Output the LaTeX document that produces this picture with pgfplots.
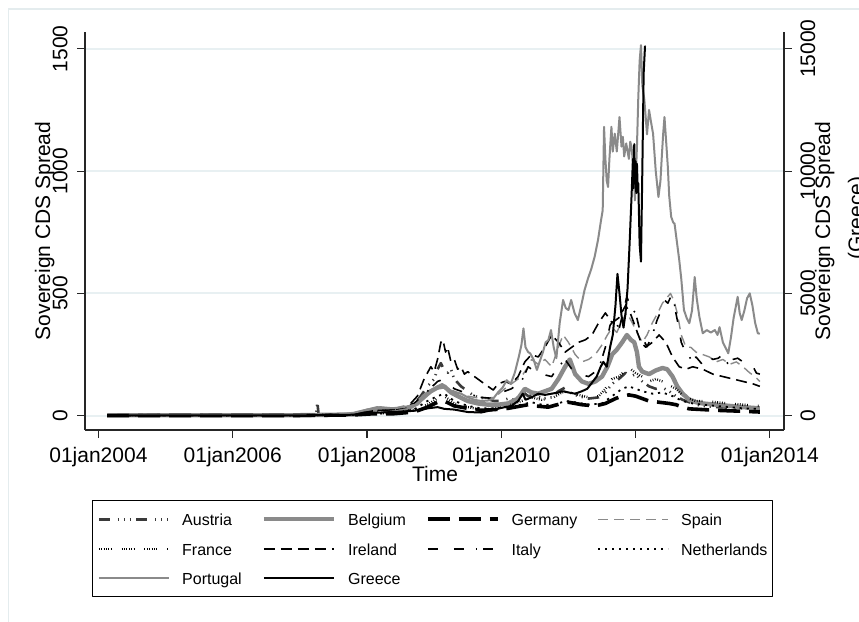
\documentclass[border=0pt]{standalone}
\usepackage{fontspec}
\setmainfont{Liberation Sans}
\usepackage{pgfplots}
\pgfplotsset{compat=1.18}

\definecolor{sgray}{HTML}{8A8A8A}
\definecolor{sdark}{HTML}{3A3A3A}
\definecolor{gridc}{HTML}{E8F0F2}
\definecolor{framec}{HTML}{E4ECEE}

% line styles of the ten countries
\tikzset{
  lsAT/.style={sdark, line width=1.3pt, dash pattern=on 5.5pt off 4pt on 0.6pt off 2.4pt on 0.6pt off 2.4pt on 0.6pt off 2.6pt},
  lsBE/.style={sgray, line width=2.2pt},
  lsDE/.style={black, line width=1.8pt, dash pattern=on 11pt off 4.5pt},
  lsES/.style={sgray, line width=0.7pt, dash pattern=on 5pt off 3pt},
  lsFR/.style={black, line width=1.2pt, dash pattern=on 0.4pt off 0.8pt on 0.4pt off 0.8pt on 0.4pt off 0.8pt on 0.4pt off 0.8pt on 0.4pt off 0.8pt on 0.4pt off 5pt},
  lsIE/.style={black, line width=0.8pt, dash pattern=on 5.5pt off 3pt},
  lsIT/.style={black, line width=0.8pt, dash pattern=on 5pt off 8pt on 5pt off 6pt on 0.8pt off 3pt},
  lsNL/.style={black, line width=0.9pt, dash pattern=on 1.1pt off 2.4pt},
  lsPT/.style={sgray, line width=1pt},
  lsGR/.style={black, line width=1pt},
}

\pgfplotsset{
  cdsaxis/.style={
    scale only axis, width=349.5pt, height=199pt,
    at={(42.5pt,-215pt)}, anchor=south west,
    xmin=2003.80, xmax=2014.21,
    tick align=outside, major tick length=4pt,
    axis line style={black!85, line width=0.55pt, -},
    tick style={black!85, line width=0.55pt},
    every tick label/.append style={font=\fontsize{10.5}{12}\selectfont, inner sep=0pt},
    scaled y ticks=false,
    /pgf/number format/1000 sep={},
    /pgf/number format/assume math mode=true,
    line join=round,
  }
}

\begin{document}
\begin{tikzpicture}
\useasboundingbox (0pt,0pt) rectangle (429.5pt,-311pt);
\draw[framec, line width=0.8pt] (4.2pt,-330pt) -- (4.2pt,-4.5pt) -- (440pt,-4.5pt);

\begin{axis}[cdsaxis,
  ymin=-58.5, ymax=1568.6,
  axis x line*=bottom, axis y line*=left,
  xtick={2004,2006,2008,2010,2012,2014},
  xticklabels={01jan2004,01jan2006,01jan2008,01jan2010,01jan2012,01jan2014},
  xticklabel style={anchor=north},
  xticklabel shift=4.5pt,
  ytick={0,500,1000,1500},
  yticklabel style={rotate=90, anchor=south},
  yticklabel shift=4.5pt,
  ymajorgrids, grid style={gridc, line width=1pt},
  legend columns=4,
  legend cell align=left,
  legend style={at={(0.0100,-0.1759)}, anchor=north west, draw=black, line width=0.6pt,
    fill=white, inner xsep=2.5pt, inner ysep=5.7pt,
    font=\fontsize{8.0}{9}\selectfont,
    /tikz/row sep=7.55pt,
    /tikz/every odd column/.append style={column sep=6pt},
    /tikz/every even column/.append style={column sep=10pt},
    nodes={inner sep=0pt, text height=6.8pt, text depth=0.4pt}},
  legend image code/.code={\draw[#1, line cap=butt] (0pt,0pt) -- (35pt,0pt);},
]

% Austria
\addplot[lsAT] coordinates {(2004.13,3)(2004.5,2)(2005,2)(2005.5,3)(2006,2)(2006.5,2)(2007,2)(2007.24,3)(2007.26,55)(2007.28,3)(2007.6,3)(2007.9,8)(2008.1,15)(2008.3,20)(2008.5,25)(2008.7,45)(2008.8,80)(2008.9,120)(2009.0,150)(2009.05,190)(2009.1,215)(2009.15,185)(2009.2,175)(2009.25,190)(2009.3,150)(2009.4,120)(2009.5,100)(2009.6,80)(2009.75,70)(2009.9,60)(2010.0,60)(2010.1,70)(2010.2,65)(2010.33,95)(2010.4,80)(2010.5,85)(2010.6,70)(2010.75,75)(2010.85,100)(2010.95,115)(2011.05,90)(2011.15,80)(2011.3,70)(2011.45,75)(2011.55,95)(2011.65,130)(2011.75,150)(2011.85,175)(2011.92,160)(2012.0,170)(2012.1,140)(2012.2,120)(2012.3,110)(2012.4,115)(2012.5,100)(2012.6,80)(2012.7,65)(2012.8,55)(2012.9,45)(2013.0,40)(2013.2,35)(2013.4,33)(2013.6,30)(2013.85,28)};
\addlegendentry{Austria}

% Belgium
\addplot[lsBE] coordinates {(2004.13,2)(2005,2)(2006,2)(2007,2)(2007.8,5)(2008.0,20)(2008.2,30)(2008.4,25)(2008.6,30)(2008.75,50)(2008.85,80)(2008.95,100)(2009.05,115)(2009.15,120)(2009.25,95)(2009.35,80)(2009.5,60)(2009.65,50)(2009.8,45)(2009.95,45)(2010.1,50)(2010.25,70)(2010.35,110)(2010.45,95)(2010.55,90)(2010.65,100)(2010.75,110)(2010.85,150)(2010.95,200)(2011.02,230)(2011.1,170)(2011.2,140)(2011.3,130)(2011.4,140)(2011.5,160)(2011.58,200)(2011.65,250)(2011.72,270)(2011.8,300)(2011.87,330)(2011.93,310)(2011.98,300)(2012.02,260)(2012.05,200)(2012.1,180)(2012.2,170)(2012.3,185)(2012.4,195)(2012.47,190)(2012.55,160)(2012.62,120)(2012.7,90)(2012.8,65)(2012.9,55)(2013.0,50)(2013.2,45)(2013.4,40)(2013.6,35)(2013.85,30)};
\addlegendentry{Belgium}

% Germany
\addplot[lsDE] coordinates {(2004.13,1)(2005,1)(2006,1)(2007,1)(2007.8,3)(2008.1,8)(2008.4,8)(2008.7,15)(2008.9,35)(2009.05,55)(2009.15,60)(2009.3,40)(2009.5,30)(2009.7,22)(2009.9,25)(2010.1,30)(2010.3,40)(2010.4,45)(2010.5,40)(2010.7,35)(2010.9,50)(2011.0,55)(2011.2,45)(2011.4,40)(2011.55,50)(2011.7,70)(2011.8,80)(2011.9,85)(2012.0,80)(2012.1,70)(2012.2,60)(2012.35,55)(2012.5,50)(2012.6,45)(2012.7,35)(2012.8,28)(2013.0,25)(2013.2,22)(2013.4,20)(2013.6,18)(2013.85,15)};
\addlegendentry{Germany}

% Spain
\addplot[lsES] coordinates {(2004.13,3)(2005,3)(2006,3)(2007,3)(2007.8,10)(2008.1,25)(2008.4,30)(2008.7,50)(2008.9,90)(2009.05,110)(2009.15,120)(2009.3,100)(2009.5,80)(2009.7,70)(2009.9,75)(2010.05,110)(2010.15,130)(2010.3,160)(2010.4,200)(2010.45,230)(2010.55,210)(2010.65,230)(2010.75,200)(2010.85,280)(2010.92,330)(2011.0,300)(2011.1,250)(2011.2,220)(2011.3,230)(2011.4,250)(2011.5,290)(2011.58,330)(2011.65,360)(2011.72,340)(2011.8,390)(2011.87,420)(2011.95,380)(2012.02,340)(2012.1,300)(2012.17,330)(2012.25,380)(2012.33,420)(2012.4,460)(2012.46,480)(2012.52,500)(2012.57,470)(2012.62,420)(2012.68,330)(2012.75,280)(2012.82,280)(2012.9,260)(2013.0,250)(2013.1,240)(2013.2,220)(2013.3,230)(2013.4,210)(2013.5,220)(2013.6,200)(2013.7,175)(2013.78,160)(2013.85,140)};
\addlegendentry{Spain}

% France
\addplot[lsFR] coordinates {(2004.13,2)(2005,2)(2006,2)(2007,2)(2007.8,4)(2008.1,10)(2008.4,10)(2008.7,25)(2008.9,45)(2009.05,70)(2009.15,80)(2009.3,50)(2009.5,35)(2009.7,25)(2009.9,28)(2010.1,40)(2010.3,60)(2010.45,75)(2010.6,65)(2010.75,70)(2010.9,95)(2011.0,100)(2011.15,85)(2011.3,75)(2011.45,80)(2011.55,110)(2011.65,150)(2011.75,160)(2011.85,185)(2011.93,190)(2012.0,175)(2012.1,160)(2012.2,140)(2012.3,150)(2012.4,140)(2012.5,125)(2012.6,110)(2012.7,85)(2012.8,70)(2012.9,60)(2013.0,60)(2013.2,55)(2013.4,50)(2013.6,45)(2013.85,40)};
\addlegendentry{France}

% Ireland
\addplot[lsIE] coordinates {(2004.13,2)(2005,2)(2006,2)(2007,2)(2007.8,6)(2008.1,20)(2008.4,25)(2008.6,35)(2008.75,80)(2008.85,150)(2008.95,200)(2009.0,180)(2009.05,230)(2009.1,300)(2009.13,310)(2009.17,260)(2009.2,280)(2009.25,220)(2009.3,230)(2009.35,190)(2009.4,200)(2009.45,170)(2009.5,180)(2009.6,160)(2009.7,140)(2009.8,120)(2009.88,105)(2009.95,130)(2010.05,140)(2010.15,130)(2010.25,160)(2010.35,220)(2010.45,250)(2010.55,240)(2010.65,280)(2010.75,330)(2010.85,300)(2010.95,260)(2011.05,280)(2011.15,300)(2011.25,310)(2011.35,330)(2011.45,380)(2011.55,420)(2011.65,380)(2011.75,400)(2011.85,450)(2011.92,420)(2012.0,360)(2012.08,300)(2012.15,280)(2012.25,300)(2012.35,330)(2012.45,300)(2012.55,240)(2012.65,200)(2012.75,190)(2012.85,200)(2013.0,190)(2013.15,170)(2013.3,160)(2013.45,150)(2013.6,140)(2013.75,130)(2013.85,120)};
\addlegendentry{Ireland}

% Italy
\addplot[lsIT] coordinates {(2004.13,3)(2005,3)(2006,3)(2007,3)(2007.8,8)(2008.1,20)(2008.4,25)(2008.7,50)(2008.9,100)(2009.05,140)(2009.15,150)(2009.3,110)(2009.5,90)(2009.7,75)(2009.9,70)(2010.05,100)(2010.15,110)(2010.3,140)(2010.4,200)(2010.5,180)(2010.6,170)(2010.75,160)(2010.85,200)(2010.95,230)(2011.05,190)(2011.15,170)(2011.3,160)(2011.45,190)(2011.55,280)(2011.62,370)(2011.7,400)(2011.75,350)(2011.82,430)(2011.87,486)(2011.93,440)(2012.0,420)(2012.08,330)(2012.17,282)(2012.25,330)(2012.32,391)(2012.38,430)(2012.43,473)(2012.48,460)(2012.53,490)(2012.56,486)(2012.6,420)(2012.63,378)(2012.68,300)(2012.73,268)(2012.78,250)(2012.83,228)(2012.9,240)(2012.98,214)(2013.05,250)(2013.15,230)(2013.23,235)(2013.3,250)(2013.37,214)(2013.45,230)(2013.52,235)(2013.6,220)(2013.7,195)(2013.75,200)(2013.8,174)(2013.85,170)};
\addlegendentry{Italy}

% Netherlands
\addplot[lsNL] coordinates {(2004.13,1)(2005,1)(2006,1)(2007,1)(2007.8,3)(2008.1,8)(2008.4,10)(2008.7,25)(2008.9,60)(2009.05,80)(2009.15,90)(2009.3,60)(2009.5,40)(2009.7,30)(2009.9,30)(2010.1,35)(2010.3,45)(2010.45,55)(2010.6,45)(2010.8,45)(2010.95,60)(2011.1,55)(2011.3,45)(2011.5,50)(2011.65,80)(2011.8,110)(2011.9,120)(2012.0,110)(2012.1,100)(2012.25,90)(2012.4,95)(2012.55,80)(2012.7,60)(2012.85,50)(2013.0,45)(2013.2,40)(2013.4,35)(2013.6,30)(2013.85,28)};
\addlegendentry{Netherlands}

% Portugal
\addplot[lsPT] coordinates {(2004.13,6)(2004.4,4)(2004.7,5)(2005.0,3)(2005.3,3)(2005.6,4)(2005.9,3)(2006.2,3)(2006.5,4)(2006.8,3)(2007.1,3)(2007.4,4)(2007.6,6)(2007.8,12)(2008.0,25)(2008.15,35)(2008.3,30)(2008.45,32)(2008.6,38)(2008.72,45)(2008.85,70)(2008.95,95)(2009.05,120)(2009.12,130)(2009.2,110)(2009.3,95)(2009.4,90)(2009.5,75)(2009.6,65)(2009.7,60)(2009.8,62)(2009.88,70)(2009.95,95)(2010.02,115)(2010.08,145)(2010.14,130)(2010.2,175)(2010.26,240)(2010.3,290)(2010.33,357)(2010.36,280)(2010.4,260)(2010.43,255)(2010.48,230)(2010.53,187)(2010.57,220)(2010.62,260)(2010.66,300)(2010.7,309)(2010.74,350)(2010.78,280)(2010.82,235)(2010.87,380)(2010.92,473)(2010.96,440)(2011.0,432)(2011.04,473)(2011.09,420)(2011.14,391)(2011.19,450)(2011.24,514)(2011.29,560)(2011.34,600)(2011.39,650)(2011.44,718)(2011.48,790)(2011.51,840)(2011.53,1181)(2011.55,1050)(2011.57,960)(2011.59,935)(2011.61,1050)(2011.64,1181)(2011.66,1080)(2011.69,1153)(2011.72,1080)(2011.74,1150)(2011.76,1221)(2011.79,1100)(2011.81,1140)(2011.83,1060)(2011.86,1113)(2011.9,1050)(2011.92,1120)(2011.94,1098)(2011.97,1000)(2011.99,880)(2012.02,1100)(2012.04,1300)(2012.06,1450)(2012.08,1515)(2012.1,1350)(2012.13,1293)(2012.17,1150)(2012.2,1250)(2012.23,1200)(2012.26,1153)(2012.3,1000)(2012.34,894)(2012.37,960)(2012.39,1058)(2012.41,1150)(2012.43,1221)(2012.46,1100)(2012.48,1017)(2012.5,900)(2012.53,813)(2012.56,790)(2012.58,785)(2012.62,700)(2012.65,636)(2012.68,560)(2012.72,432)(2012.76,400)(2012.8,378)(2012.84,430)(2012.88,567)(2012.91,480)(2012.95,404)(2013.0,337)(2013.06,350)(2013.12,340)(2013.18,350)(2013.22,330)(2013.25,362)(2013.3,300)(2013.38,255)(2013.42,320)(2013.46,400)(2013.52,486)(2013.55,420)(2013.58,391)(2013.62,430)(2013.66,480)(2013.7,500)(2013.74,450)(2013.78,380)(2013.82,337)(2013.85,335)};
\addlegendentry{Portugal}

% Greece is plotted on the right-hand axis; its key is added here
\addlegendimage{lsGR}
\addlegendentry{Greece}
\end{axis}

\begin{axis}[cdsaxis,
  ymin=-585, ymax=15686,
  axis y line*=right, axis x line=none,
  ytick={0,5000,10000,15000},
  yticklabel style={rotate=90, anchor=north},
  yticklabel shift=4pt,
]
% Greece
\addplot[lsGR] coordinates {(2004.13,20)(2005,15)(2006,15)(2007,15)(2007.8,40)(2008.1,120)(2008.4,150)(2008.7,200)(2008.9,300)(2009.05,350)(2009.15,280)(2009.3,250)(2009.5,150)(2009.7,130)(2009.9,250)(2010.05,350)(2010.15,400)(2010.25,600)(2010.32,900)(2010.36,650)(2010.45,750)(2010.55,900)(2010.65,850)(2010.75,900)(2010.85,950)(2010.92,1000)(2011.0,950)(2011.1,900)(2011.2,1000)(2011.28,1100)(2011.35,1350)(2011.42,1600)(2011.48,2000)(2011.52,2200)(2011.57,2000)(2011.62,2800)(2011.66,3300)(2011.7,4500)(2011.73,5800)(2011.76,5000)(2011.79,4100)(2011.82,3600)(2011.85,4200)(2011.88,5200)(2011.91,7000)(2011.94,9000)(2011.96,10500)(2011.97,9300)(2011.98,11100)(2011.99,9500)(2012.0,10400)(2012.01,9100)(2012.02,10300)(2012.03,9400)(2012.04,9500)(2012.06,7000)(2012.08,6300)(2012.1,10000)(2012.12,14000)(2012.14,15100)(2012.15,15100)};
\end{axis}

\node[rotate=90, anchor=base, font=\fontsize{10.5}{12}\selectfont] at (25pt,-115.5pt) {Sovereign CDS Spread};
\node[rotate=90, anchor=base, font=\fontsize{10.5}{12}\selectfont] at (415pt,-115.5pt) {Sovereign CDS Spread};
\node[rotate=90, anchor=base, font=\fontsize{10.5}{12}\selectfont] at (431.5pt,-109pt) {(Greece)};
\node[anchor=base, font=\fontsize{10.5}{12}\selectfont] at (217.5pt,-240.5pt) {Time};
\end{tikzpicture}
\end{document}
